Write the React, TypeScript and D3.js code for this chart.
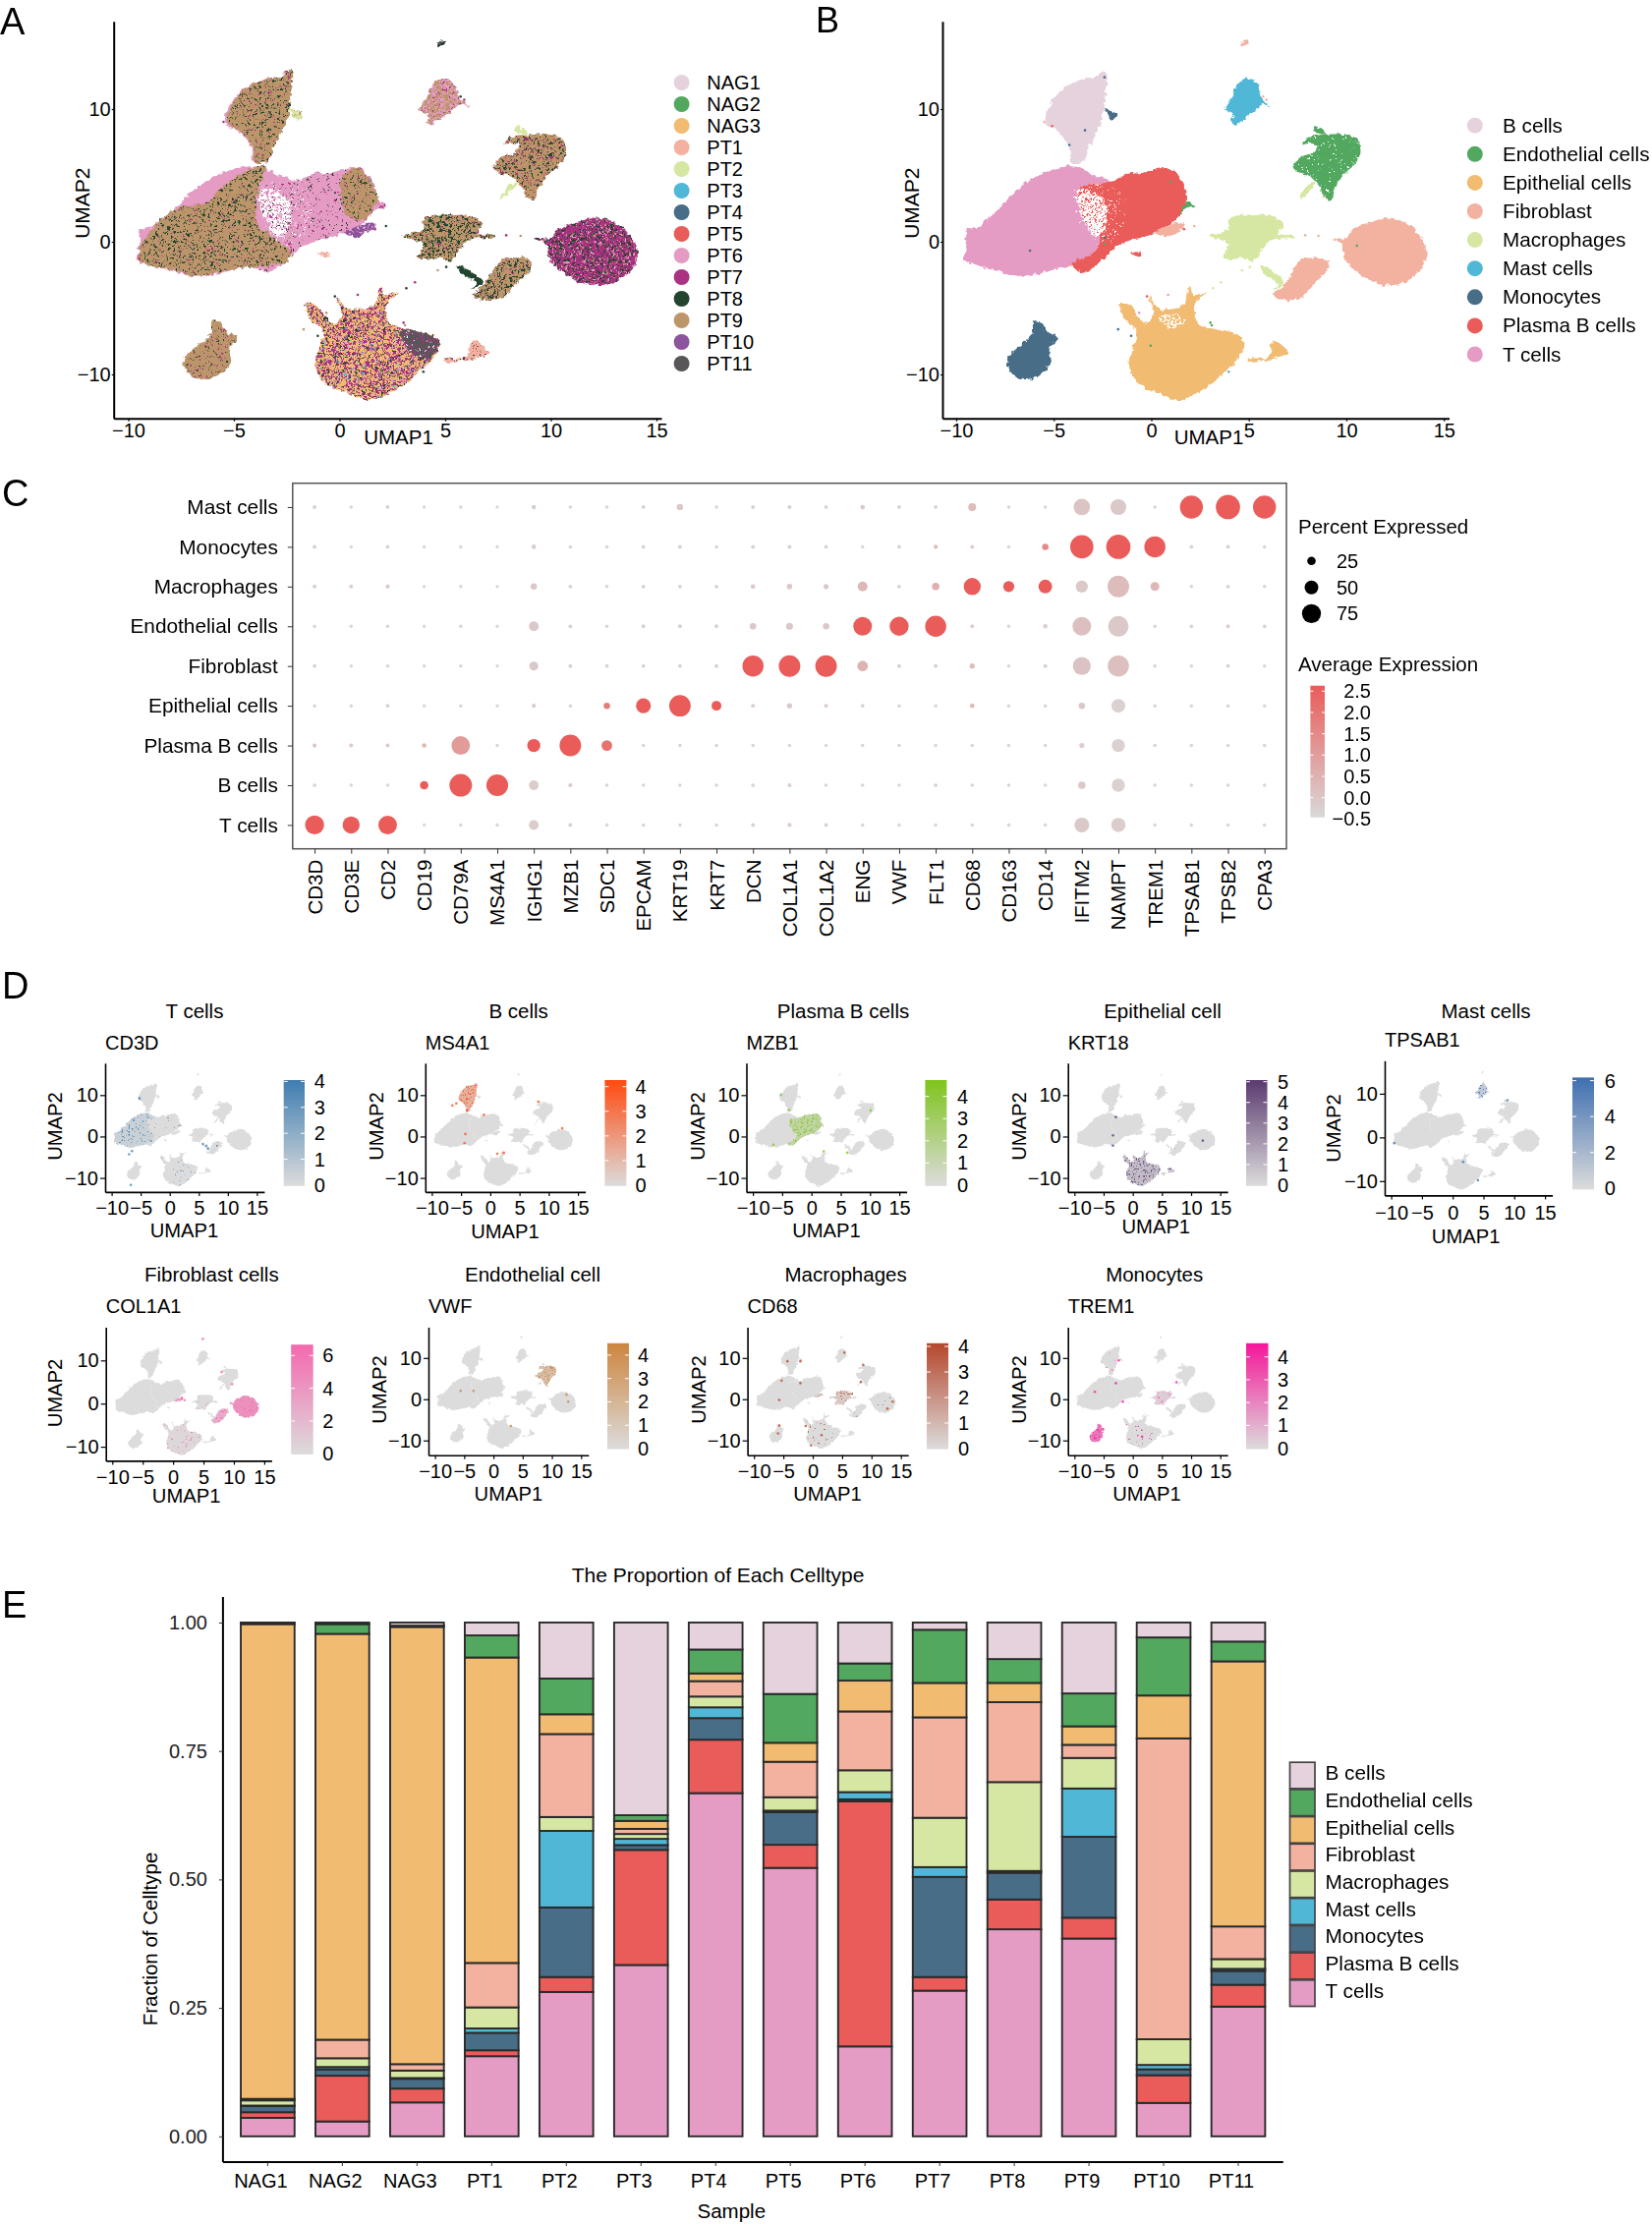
import { useRef, useEffect } from "react";
import * as d3 from "d3";

type Pt = [number, number];

// ---- shared categories
const sampleNames = ["NAG1", "NAG2", "NAG3", "PT1", "PT2", "PT3", "PT4", "PT5", "PT6", "PT7", "PT8", "PT9", "PT10", "PT11"];
const sampleColors = ["#E5D2DD", "#53A85F", "#F1BB72", "#F3B1A0", "#D6E7A3", "#50B8D6", "#476D87", "#E95C59", "#E59CC4", "#AB3282", "#23452F", "#BD956A", "#8C549C", "#585658"];
const cellTypes = ["B cells", "Endothelial cells", "Epithelial cells", "Fibroblast", "Macrophages", "Mast cells", "Monocytes", "Plasma B cells", "T cells"];
const cellColors = ["#E5D2DD", "#53A85F", "#F1BB72", "#F3B1A0", "#D6E7A3", "#50B8D6", "#476D87", "#E95C59", "#E59CC4"];
const [PINK, TAN, DARK, MAGENTA, GREY] = ["#E59CC4", "#BD956A", "#23452F", "#AB3282", "#585658"];

// ---- UMAP cluster outlines (UMAP1, UMAP2)
const tCellOutline: Pt[] = [[-4.54, 5.63], [-3.73, 5.63], [-2.92, 5.01], [-2.11, 4.59], [-3.73, 4.02], [-3.68, 2.91], [-3.41, 1.43], [-2.65, 0.32], [-2.92, -0.79], [-4.14, -1.73], [-5.08, -2.15], [-6.7, -2.64], [-7.78, -2.27], [-9.0, -1.73], [-9.57, -1.41], [-9.46, -0.17], [-9.46, 0.94], [-9.0, 1.06], [-8.05, 2.17], [-6.7, 4.15], [-5.62, 5.14]];
const plasmaOutline: Pt[] = [[-3.73, 4.02], [-1.97, 4.59], [-1.03, 5.26], [-0.76, 5.14], [1.0, 5.51], [1.68, 4.15], [1.76, 2.91], [1.27, 1.68], [0.05, 0.57], [-1.57, -0.17], [-2.92, -1.9], [-3.46, -2.27], [-4.14, -1.73], [-2.92, -0.79], [-2.65, 0.32], [-3.41, 1.43], [-3.68, 2.91]];
const gapOutline: Pt[] = [[-3.8, 3.9], [-2.5, 3.3], [-2.3, 1.5], [-2.8, 0.3], [-3.5, 1.7]];
const gapFringeOutline: Pt[] = [[-3.9, 4.1], [-1.6, 3.9], [-1.4, 1.2], [-2.6, -0.3], [-3.6, 1.4]];
const bCellOutline: Pt[] = [[-2.51, 12.91], [-2.27, 12.67], [-2.38, 10.81], [-2.43, 9.7], [-2.78, 8.35], [-3.19, 7.11], [-3.46, 6.12], [-4.14, 6.0], [-4.14, 6.99], [-4.81, 8.35], [-5.35, 8.84], [-5.41, 9.58], [-5.08, 10.57], [-4.54, 11.56], [-3.46, 12.3], [-2.78, 12.49]];
const monoSmallOutline: Pt[] = [[-2.38, 10.07], [-1.78, 9.58], [-1.97, 9.14], [-2.24, 9.58]];
const mastOutline: Pt[] = [[4.65, 12.17], [5.32, 12.17], [5.59, 11.31], [5.68, 10.81], [6.14, 10.2], [5.73, 10.37], [5.19, 9.7], [4.24, 8.84], [4.11, 9.09], [4.24, 9.58], [3.76, 9.95], [4.11, 10.81], [4.32, 11.56]];
const fibroTopOutline: Pt[] = [[4.62, 14.77], [4.76, 15.2], [4.97, 15.2], [4.97, 14.88]];
const endoOutline: Pt[] = [[8.03, 7.85], [10.46, 7.85], [10.73, 6.86], [10.46, 5.88], [9.92, 5.14], [9.51, 4.27], [9.19, 3.11], [8.84, 3.53], [8.3, 4.77], [7.49, 5.26], [7.3, 5.63], [7.62, 6.37], [8.3, 6.75], [8.5, 7.25], [8.1, 7.4], [7.76, 7.3]];
const endoTopOutline: Pt[] = [[8.38, 8.72], [8.97, 8.1], [8.3, 8.35]];
const macroStreakOutline: Pt[] = [[7.54, 3.21], [8.3, 4.52], [8.43, 4.4], [7.6, 3.21]];
const macroOutline: Pt[] = [[3.97, 1.73], [6.27, 1.88], [6.76, 1.19], [6.49, 0.64], [7.35, 0.49], [7.35, 0.27], [6.27, 0.2], [5.59, -0.79], [5.19, -1.53], [4.92, -1.28], [3.7, -1.21], [3.97, -0.17], [2.97, 0.44], [3.97, 0.94]];
const fibroBigOutline: Pt[] = [[12.22, 1.8], [13.03, 1.43], [13.7, 0.57], [14.11, -0.79], [13.84, -2.02], [13.03, -3.01], [11.95, -3.26], [10.86, -2.64], [9.92, -1.28], [9.78, -0.17], [9.24, 0.25], [9.92, 0.25], [10.32, 0.94], [11.41, 1.56]];
const fibroSmallOutline: Pt[] = [[7.76, -1.28], [8.84, -1.28], [9.11, -1.83], [8.43, -3.01], [7.76, -4.12], [7.08, -4.44], [6.27, -4.0], [6.81, -3.26], [7.22, -2.27]];
const macroSliverOutline: Pt[] = [[5.59, -1.78], [6.81, -3.01], [6.27, -3.63], [6.49, -3.14], [5.86, -2.52]];
const plasmaEdgeOutline: Pt[] = [[0.19, 0.64], [1.41, 1.43], [1.73, 1.19], [0.86, 0.44]];
const redSpotOutline: Pt[] = [[-1.03, -0.91], [-0.54, -0.79], [-0.54, -1.11]];
const endoSideOutline: Pt[] = [[1.46, 1.93], [1.81, 3.04], [2.22, 2.67], [1.68, 2.42]];
const monoOutline: Pt[] = [[-6.03, -5.98], [-5.62, -6.1], [-5.35, -6.77], [-4.81, -7.21], [-5.22, -8.07], [-5.14, -9.06], [-5.62, -9.93], [-6.3, -10.37], [-6.97, -10.17], [-7.38, -9.31], [-7.38, -8.81], [-6.84, -7.95], [-6.11, -6.96]];
const epiOutline: Pt[] = [[1.95, -3.26], [2.08, -4.0], [2.81, -3.83], [2.22, -4.74], [2.43, -6.22], [3.3, -6.59], [4.51, -7.09], [4.78, -7.7], [4.38, -8.94], [3.84, -9.68], [3.03, -10.79], [1.41, -11.95], [0.59, -11.53], [-0.76, -10.54], [-1.14, -9.19], [-0.76, -6.72], [-1.3, -5.98], [-1.62, -4.62], [-1.03, -4.86], [-0.7, -5.6], [-0.22, -6.22], [0.11, -5.48], [-0.16, -4.12], [0.32, -4.99], [0.86, -5.11], [1.68, -4.74]];
const epiTailOutline: Pt[] = [[4.92, -8.81], [6.0, -8.69], [6.27, -7.46], [6.81, -7.95], [7.08, -8.44], [6.27, -8.81], [4.92, -9.06]];
const epiHoleOutline: Pt[] = [[0.4, -5.7], [1.4, -5.5], [1.7, -6.1], [0.9, -6.5]];

// outlines that only exist in the sample view (panel A)
const tanLeftOutline: Pt[] = [[-9.35, -0.17], [-7.86, 2.42], [-6.36, 2.91], [-5.36, 4.4], [-4.36, 5.38], [-3.49, 5.75], [-3.87, 3.9], [-3.87, 1.43], [-2.87, -0.05], [-2.24, -0.91], [-2.62, -1.53], [-4.86, -2.02], [-6.86, -2.59], [-7.86, -2.15], [-9.48, -1.41]];
const tanRightOutline: Pt[] = [[0.12, 4.89], [0.87, 5.51], [1.62, 4.15], [1.82, 2.91], [1.12, 1.68], [0.37, 1.93]];
const greyPatchOutline: Pt[] = [[2.87, -6.72], [4.24, -6.96], [4.74, -7.7], [4.11, -8.81], [3.37, -8.32]];

const clusterOutlines: Pt[][] = [tCellOutline, plasmaOutline, bCellOutline, monoSmallOutline, mastOutline, fibroTopOutline, endoOutline, endoTopOutline, macroStreakOutline, macroOutline, fibroBigOutline, fibroSmallOutline, macroSliverOutline, plasmaEdgeOutline, redSpotOutline, endoSideOutline, monoOutline, epiOutline, epiTailOutline];
const clusterCells = [8, 7, 0, 6, 5, 3, 1, 1, 4, 4, 3, 3, 4, 3, 7, 1, 6, 2, 2];

// isolated cells [UMAP1, UMAP2, cell type index]
const strayCells: [number, number, number][] = [[3.16, -3.5, 4], [3.57, -3.06, 4], [4.65, -2.15, 4], [5.05, -1.9, 4], [7.89, 0.49, 3], [8.57, 0.44, 3], [2.2, 1.19, 3], [1.68, 0.94, 7], [-1.7, -6.6, 6], [-1.03, -7.09, 6], [3.03, -6.1, 1], [3.1, -6.3, 1], [3.97, -9.8, 5], [-5.49, 9.04, 3], [-5.08, 8.72, 7], [-0.22, -4.12, 7], [0.86, -4.0, 8], [-0.62, -5.36, 8], [10.54, -0.3, 1], [-6.22, -0.67, 6], [-0.03, -7.83, 1], [5.73, 10.94, 3], [5.9, 10.7, 3], [8.84, 3.41, 3], [1.0, 4.52, 1], [-2.38, -0.17, 1], [-2.38, 0.32, 6], [-3.4, 8.4, 6], [-2.4, 12.4, 6], [-4.2, 7.3, 6]];

// ---- panel C dot plot
const dotGenes = ["CD3D", "CD3E", "CD2", "CD19", "CD79A", "MS4A1", "IGHG1", "MZB1", "SDC1", "EPCAM", "KRT19", "KRT7", "DCN", "COL1A1", "COL1A2", "ENG", "VWF", "FLT1", "CD68", "CD163", "CD14", "IFITM2", "NAMPT", "TREM1", "TPSAB1", "TPSB2", "CPA3"];
const dotRows = ["Mast cells", "Monocytes", "Macrophages", "Endothelial cells", "Fibroblast", "Epithelial cells", "Plasma B cells", "B cells", "T cells"];
const pctMast = [3, 1, 2, 0, 1, 0, 6, 1, 1, 2, 15, 1, 3, 3, 2, 6, 2, 2, 22, 1, 1, 63, 60, 1, 94, 100, 94];
const pctMono = [3, 1, 2, 0, 1, 0, 6, 1, 1, 2, 3, 1, 3, 3, 2, 1, 2, 4, 3, 1, 15, 95, 100, 85, 2, 3, 1];
const pctMacro = [3, 3, 4, 0, 1, 0, 15, 2, 1, 2, 2, 2, 6, 11, 9, 31, 2, 20, 66, 37, 50, 42, 87, 27, 1, 2, 1];
const pctEndo = [1, 1, 1, 0, 1, 0, 31, 2, 1, 3, 3, 3, 15, 18, 15, 73, 75, 85, 3, 1, 5, 73, 82, 1, 2, 3, 2];
const pctFibro = [2, 1, 1, 0, 1, 0, 27, 3, 2, 2, 2, 3, 85, 87, 87, 35, 3, 3, 9, 1, 3, 70, 85, 1, 1, 2, 1];
const pctEpi = [1, 1, 2, 0, 1, 0, 4, 1, 15, 55, 87, 31, 3, 9, 3, 2, 1, 1, 6, 1, 1, 15, 50, 1, 1, 1, 1];
const pctPlasma = [4, 3, 3, 6, 73, 1, 47, 87, 35, 1, 1, 1, 1, 1, 1, 1, 1, 1, 1, 1, 1, 9, 47, 1, 1, 1, 1];
const pctB = [2, 1, 1, 25, 92, 88, 31, 4, 1, 1, 1, 1, 2, 3, 1, 1, 1, 2, 1, 1, 1, 20, 47, 1, 1, 1, 1];
const pctT = [75, 66, 73, 0, 1, 1, 31, 3, 1, 1, 1, 1, 3, 4, 2, 1, 1, 1, 1, 1, 1, 55, 52, 1, 1, 1, 1];
const expMast = [-0.3, -0.4, -0.3, -0.4, -0.4, -0.4, -0.2, -0.4, -0.4, -0.3, -0.1, -0.4, -0.3, -0.3, -0.3, -0.1, -0.3, -0.3, 0.2, -0.4, -0.4, 0, -0.1, -0.4, 2.5, 2.5, 2.5];
const expMono = [-0.3, -0.4, -0.3, -0.4, -0.4, -0.4, -0.2, -0.4, -0.4, -0.3, -0.3, -0.4, -0.3, -0.3, -0.3, -0.4, -0.3, 0.2, -0.2, -0.4, 1.4, 2.5, 2.5, 2.5, -0.4, -0.3, -0.4];
const expMacro = [-0.2, -0.2, -0.1, -0.4, -0.4, -0.4, -0.1, -0.3, -0.4, -0.3, -0.3, -0.3, -0.1, -0.1, -0.1, 0.3, -0.3, 0.5, 2.5, 2.5, 2.5, -0.1, 0.2, 0.3, -0.4, -0.3, -0.4];
const expEndo = [-0.4, -0.4, -0.4, -0.4, -0.4, -0.4, -0.1, -0.3, -0.4, -0.3, -0.3, -0.3, -0.1, -0.1, -0.1, 2.5, 2.5, 2.5, -0.2, -0.4, -0.2, 0.1, -0.1, -0.4, -0.3, -0.2, -0.3];
const expFibro = [-0.3, -0.4, -0.4, -0.4, -0.4, -0.4, -0.1, -0.3, -0.3, -0.3, -0.3, -0.3, 2.5, 2.5, 2.5, 0.4, -0.3, -0.3, 0.2, -0.4, -0.3, 0.05, 0.1, -0.4, -0.4, -0.3, -0.4];
const expEpi = [-0.4, -0.4, -0.3, -0.4, -0.4, -0.4, -0.2, -0.4, 1.7, 2.5, 2.5, 2.5, -0.2, -0.1, -0.2, -0.3, -0.4, -0.4, 0.2, -0.4, -0.4, -0.1, -0.3, -0.4, -0.4, -0.4, -0.4];
const expPlasma = [0, -0.1, -0.1, 0.3, 1.0, -0.4, 2.5, 2.5, 2.0, -0.4, -0.4, -0.4, -0.4, -0.4, -0.4, -0.4, -0.4, -0.4, -0.4, -0.4, -0.4, -0.2, -0.3, -0.4, -0.4, -0.4, -0.4];
const expB = [-0.3, -0.4, -0.4, 2.5, 2.5, 2.5, -0.2, -0.1, -0.4, -0.4, -0.4, -0.4, -0.3, -0.2, -0.4, -0.4, -0.4, -0.2, -0.4, -0.4, -0.4, -0.1, -0.3, -0.4, -0.4, -0.4, -0.4];
const expT = [2.5, 2.5, 2.5, -0.4, -0.4, -0.4, -0.2, -0.3, -0.4, -0.4, -0.4, -0.4, -0.3, -0.2, -0.3, -0.4, -0.4, -0.4, -0.4, -0.4, -0.4, -0.1, -0.2, -0.4, -0.4, -0.4, -0.4];
const dotPct = [pctMast, pctMono, pctMacro, pctEndo, pctFibro, pctEpi, pctPlasma, pctB, pctT];
const dotExp = [expMast, expMono, expMacro, expEndo, expFibro, expEpi, expPlasma, expB, expT];
const sizeLegend = [25, 50, 75];
const colorLegend = [2.5, 2.0, 1.5, 1.0, 0.5, 0.0, -0.5];

// ---- panel D feature plots
const featureTitles = ["T cells", "B cells", "Plasma B cells", "Epithelial cell", "Mast cells", "Fibroblast cells", "Endothelial cell", "Macrophages", "Monocytes"];
const featureGenes = ["CD3D", "MS4A1", "MZB1", "KRT18", "TPSAB1", "COL1A1", "VWF", "CD68", "TREM1"];
const featureColors = ["#3F7DB0", "#FF4A10", "#7FC41C", "#5B3A70", "#3F6FB0", "#F468AE", "#CD853F", "#B5472D", "#F5169A"];
const featureTicks = [[0, 1, 2, 3, 4], [0, 1, 2, 3, 4], [0, 1, 2, 3, 4], [0, 1, 2, 3, 4, 5], [0, 2, 4, 6], [0, 2, 4, 6], [0, 1, 2, 3, 4], [0, 1, 2, 3, 4], [0, 1, 2, 3, 4]];
// [outline, wash opacity, speckle coverage]
const featureHits: [Pt[], number, number][][] = [
  [[tCellOutline, 0.12, 0.2], [epiOutline, 0, 0.04], [fibroSmallOutline, 0, 0.04], [plasmaOutline, 0, 0.008]],
  [[bCellOutline, 0.3, 0.28]],
  [[plasmaOutline, 0.3, 0.3]],
  [[epiOutline, 0.2, 0.26], [epiTailOutline, 0.15, 0.22], [fibroSmallOutline, 0, 0.02]],
  [[mastOutline, 0.18, 0.25]],
  [[fibroBigOutline, 0.65, 0.2], [fibroSmallOutline, 0.4, 0.2], [epiOutline, 0.04, 0.06], [plasmaEdgeOutline, 0.4, 0.25], [macroOutline, 0, 0.03]],
  [[endoOutline, 0.35, 0.28]],
  [[macroOutline, 0.12, 0.17], [epiOutline, 0, 0.018], [fibroSmallOutline, 0, 0.04], [fibroBigOutline, 0, 0.018], [plasmaEdgeOutline, 0.2, 0.18]],
  [[monoOutline, 0.5, 0.25], [macroOutline, 0.08, 0.08], [epiOutline, 0, 0.012], [bCellOutline, 0, 0.008]],
];
const featureDots: Pt[][] = [
  [[6.3, -2.2], [5.7, -1.8], [6.6, -2.9], [-5.2, 9.2], [-7, -4.3], [-6.5, -3.5], [-6.7, -11.7]],
  [[-4.26, 0.6], [-4.4, -1.6], [-1.1, 5.25], [1.2, -4.15], [2.3, -3.9], [-6.5, 7.5], [-5.8, 8], [-4, 6.3], [8.2, 8.4], [12.3, 2]],
  [[2.1, -3.6], [-5.2, 10.1], [-3.8, 6.4], [-6.5, -2], [10.1, 6.3], [6.1, -3.9]],
  [[-3.4, 0.3], [-2.9, 4.7], [-3.4, -2.2], [12, -1]],
  [[8.9, 8.5], [4.1, -9.8], [1.7, -5.6], [-9.5, -1.3]],
  [[1.4, 1.05], [1.9, 0.8], [8, 7.3], [9.7, 4.5], [4.9, 15]],
  [[-5.6, 2], [-3.4, 2], [12.5, 1.1], [12.8, -0.6], [3, -6.5]],
  [[-4.3, 9.2], [-2.1, 9.2], [-5.3, 4.5], [-2.1, 3.9], [-5.7, -0.2], [-5.9, -8.3], [-5.7, -6.4], [-1.2, -6.5], [1.5, -8.7], [-0.3, -11.2], [12.7, -2.3], [13.6, -0.6], [8.6, 8.3], [8.2, 4.2], [5.4, 11.3]],
  [[-2.4, 9.4], [-2.9, 3.9], [-1.7, -0.6], [-6.5, 1.8], [7.5, 4.1], [1.6, -9.1]],
];

// ---- panel E stacked bars, fractions per sample in sampleNames order
const fracB = [0.001, 0.003, 0.006, 0.025, 0.109, 0.375, 0.0525, 0.139, 0.0795, 0.014, 0.071, 0.138, 0.029, 0.037];
const fracEndo = [0.002, 0.019, 0.0025, 0.043, 0.0695, 0.011, 0.0465, 0.095, 0.0335, 0.1035, 0.0465, 0.064, 0.113, 0.0385];
const fracEpi = [0.925, 0.79, 0.851, 0.5945, 0.0385, 0.0155, 0.015, 0.037, 0.06, 0.067, 0.0375, 0.036, 0.0835, 0.516];
const fracFibro = [0.003, 0.036, 0.0125, 0.0865, 0.1615, 0.01, 0.03, 0.069, 0.1145, 0.1955, 0.1555, 0.0255, 0.5855, 0.0635];
const fracMacro = [0.01, 0.017, 0.0145, 0.041, 0.027, 0.0095, 0.021, 0.026, 0.0425, 0.096, 0.173, 0.0595, 0.05, 0.019];
const fracMast = [0.001, 0.0045, 0.0015, 0.0085, 0.149, 0.012, 0.021, 0.003, 0.014, 0.019, 0.0035, 0.094, 0.0085, 0.004];
const fracMono = [0.012, 0.0125, 0.019, 0.034, 0.1355, 0.0095, 0.042, 0.0635, 0.004, 0.195, 0.052, 0.1575, 0.0115, 0.027];
const fracPlasma = [0.011, 0.089, 0.027, 0.0115, 0.029, 0.224, 0.104, 0.045, 0.477, 0.0265, 0.058, 0.0405, 0.054, 0.0425];
const fracT = [0.036, 0.029, 0.066, 0.156, 0.281, 0.3335, 0.668, 0.5225, 0.175, 0.2835, 0.403, 0.385, 0.065, 0.2525];
const cellFractions = [fracB, fracEndo, fracEpi, fracFibro, fracMacro, fracMast, fracMono, fracPlasma, fracT];

// ---- layout of the small feature panels
const featureLayout = [
  { ax: 107, ar: 268.9, at: 1081.8, ab: 1212.9, y10: 1114.3, ym10: 1198.6, title: 198, titleY: 1036, geneY: 1068, barX: 288.7, barW: 21.3, barT: 1099, barB: 1206.8, lab0: 1206, labTop: 1100.4, labX: 319.8, umapX: 187.5, umapY: 1259, umap2X: 56, umap2Y: 1146, tickY: 23 },
  { ax: 432.8, ar: 595.6, at: 1081.8, ab: 1212.9, y10: 1114.3, ym10: 1198.6, title: 527.6, titleY: 1036, geneY: 1068, barX: 615.4, barW: 22, barT: 1099, barB: 1206.8, lab0: 1206, labTop: 1105.7, labX: 646.5, umapX: 514, umapY: 1260, umap2X: 383, umap2Y: 1146, tickY: 23 },
  { ax: 759.5, ar: 922.6, at: 1081.8, ab: 1212.9, y10: 1114.3, ym10: 1198.6, title: 858, titleY: 1036, geneY: 1068, barX: 941.4, barW: 22, barT: 1099, barB: 1206.8, lab0: 1206, labTop: 1115.7, labX: 974, umapX: 841, umapY: 1259, umap2X: 709.7, umap2Y: 1146, tickY: 23 },
  { ax: 1086.7, ar: 1249.2, at: 1081.8, ab: 1212.9, y10: 1114.3, ym10: 1198.6, title: 1183, titleY: 1036, geneY: 1068, barX: 1268, barW: 21.5, barT: 1099, barB: 1206.8, lab0: 1206, labTop: 1100.7, labX: 1300, umapX: 1176.3, umapY: 1255, umap2X: 1036.8, umap2Y: 1146, tickY: 23 },
  { ax: 1409, ar: 1579.6, at: 1079.3, ab: 1216.4, y10: 1112.9, ym10: 1201.8, title: 1512, titleY: 1036, geneY: 1065, barX: 1600, barW: 22, barT: 1096.4, barB: 1210.4, lab0: 1209.3, labTop: 1099.6, labX: 1632.7, umapX: 1491.6, umapY: 1265, umap2X: 1356.5, umap2Y: 1148, tickY: 24 },
  { ax: 107.7, ar: 276.4, at: 1350.4, ab: 1486.4, y10: 1384.3, ym10: 1472.1, title: 215.3, titleY: 1304, geneY: 1336, barX: 296.2, barW: 22.5, barT: 1368.2, barB: 1480, lab0: 1479.3, labTop: 1379.3, labX: 328.3, umapX: 189.6, umapY: 1529, umap2X: 56.2, umap2Y: 1417.5, tickY: 23 },
  { ax: 436, ar: 598.8, at: 1350.4, ab: 1480.7, y10: 1381.8, ym10: 1465.7, title: 542, titleY: 1304, geneY: 1336, barX: 618, barW: 22, barT: 1366.8, barB: 1474.6, lab0: 1474, labTop: 1378.9, labX: 649, umapX: 517.4, umapY: 1527, umap2X: 385.6, umap2Y: 1414, tickY: 23 },
  { ax: 760.6, ar: 924.2, at: 1350.4, ab: 1480.7, y10: 1381.8, ym10: 1465.7, title: 860.6, titleY: 1304, geneY: 1336, barX: 943, barW: 22, barT: 1366.8, barB: 1474.6, lab0: 1474, labTop: 1370, labX: 975, umapX: 842, umapY: 1527, umap2X: 710.8, umap2Y: 1414, tickY: 23 },
  { ax: 1086.7, ar: 1249.2, at: 1350.4, ab: 1480.7, y10: 1381.8, ym10: 1465.7, title: 1174.7, titleY: 1304, geneY: 1336, barX: 1268, barW: 22.5, barT: 1366.8, barB: 1474.6, lab0: 1473.6, labTop: 1380.7, labX: 1300, umapX: 1167, umapY: 1527, umap2X: 1036.8, umap2Y: 1414, tickY: 23 },
];

const FS = 20;
const GEO_TICKS = [-10, -5, 0, 5, 10, 15];

export default function App() {
  const svgRef = useRef<SVGSVGElement>(null);

  useEffect(() => {
    if (!svgRef.current) return;
    const svg = d3.select(svgRef.current);
    svg.selectAll("*").remove();
    const defs = svg.append("defs");

    // speckle texture standing in for overplotted single cells
    const speckles = new Map<string, string>();
    const speckle = (color: string, coverage: number, freq = 0.62) => {
      const key = `${color}-${coverage}-${freq}`;
      if (speckles.has(key)) return speckles.get(key)!;
      const id = `sp${speckles.size}`;
      speckles.set(key, `url(#${id})`);
      const c = d3.rgb(color);
      const threshold = 0.5 + (0.5 - coverage) * 0.42;
      const k = 16;
      const f = defs.append("filter").attr("id", id).attr("x", "-5%").attr("y", "-5%").attr("width", "110%").attr("height", "110%").attr("color-interpolation-filters", "sRGB");
      f.append("feTurbulence").attr("type", "fractalNoise").attr("baseFrequency", freq).attr("numOctaves", 2).attr("seed", speckles.size * 7 + 2).attr("result", "n");
      f.append("feColorMatrix").attr("in", "n").attr("type", "matrix").attr("values", `0 0 0 0 ${c.r / 255} 0 0 0 0 ${c.g / 255} 0 0 0 0 ${c.b / 255} 0 0 0 ${k} ${-threshold * k}`).attr("result", "s");
      f.append("feComposite").attr("in", "s").attr("in2", "SourceAlpha").attr("operator", "in");
      return `url(#${id})`;
    };
    const addRough = (id: string, scale: number, freq: number) => {
      const f = defs.append("filter").attr("id", id).attr("x", "-5%").attr("y", "-5%").attr("width", "110%").attr("height", "110%").attr("color-interpolation-filters", "sRGB");
      f.append("feTurbulence").attr("type", "fractalNoise").attr("baseFrequency", freq).attr("numOctaves", 2).attr("seed", 11).attr("result", "n");
      f.append("feDisplacementMap").attr("in", "SourceGraphic").attr("in2", "n").attr("scale", scale).attr("xChannelSelector", "R").attr("yChannelSelector", "G");
    };
    addRough("rough", 6, 0.2);
    addRough("roughSmall", 3, 0.3);

    const text = (g: any, s: string | number, x: number, y: number, anchor = "start", size = FS) =>
      g.append("text").attr("x", x).attr("y", y).attr("text-anchor", anchor).attr("font-size", size).attr("fill", "#000").text(s);
    const rotText = (g: any, s: string, x: number, y: number, anchor = "middle", size = FS) =>
      g.append("text").attr("transform", `translate(${x},${y}) rotate(-90)`).attr("text-anchor", anchor).attr("font-size", size).attr("fill", "#000").text(s);

    const blobPath = (x: any, y: any) => d3.line<Pt>().x((d) => x(d[0])).y((d) => y(d[1])).curve(d3.curveCatmullRomClosed.alpha(0.5));

    const styleAxis = (a: any, stroke: number) => {
      a.attr("font-family", null).attr("font-size", FS);
      a.select(".domain").attr("stroke", "#000").attr("stroke-width", stroke);
      a.selectAll(".tick line").attr("stroke", "#000").attr("stroke-width", 1.2);
      a.selectAll(".tick text").attr("fill", "#000");
    };

    // ---- panels A and B share their scales
    const umapScales = (ax: number, ar: number, x0: number, unit: number) => ({
      x: d3.scaleLinear().domain([(ax - x0) / unit, (ar - x0) / unit]).range([ax, ar]),
      y: d3.scaleLinear().domain([(246 - 21.7) / 13.5, (246 - 425.7) / 13.5]).range([21.7, 425.7]),
    });
    const drawBigAxes = (g: any, x: any, y: any, ax: number) => {
      const bx = g.append("g").attr("transform", "translate(0,425.7)").call(d3.axisBottom(x).tickValues(GEO_TICKS).tickSize(3).tickSizeOuter(0).tickPadding(2));
      styleAxis(bx, 2);
      const by = g.append("g").attr("transform", `translate(${ax},0)`).call(d3.axisLeft(y).tickValues([-10, 0, 10]).tickSize(2).tickSizeOuter(0).tickPadding(1));
      styleAxis(by, 2);
    };

    // panel A: clusters coloured by sample
    {
      const { x, y } = umapScales(115.7, 673, 345.5, 21.5);
      const line = blobPath(x, y);
      const g = svg.append("g");
      const blobs = g.append("g").attr("filter", "url(#rough)");
      const FA = 0.42;
      const layer = (outline: Pt[], base: string | null, specks: [string, number][]) => {
        if (base) blobs.append("path").attr("d", line(outline)).attr("fill", base);
        specks.forEach(([c, cov]) => blobs.append("path").attr("d", line(outline)).attr("fill", "#000").attr("filter", speckle(c, cov, FA)));
      };
      layer(tCellOutline, PINK, []);
      layer(plasmaOutline, PINK, [[DARK, 0.05], [MAGENTA, 0.05]]);
      layer(gapOutline, null, [["#ffffff", 0.7], [DARK, 0.03], [MAGENTA, 0.03]]);
      layer(gapFringeOutline, null, [["#ffffff", 0.12]]);
      layer(tanLeftOutline, TAN, [[MAGENTA, 0.03], [DARK, 0.26]]);
      layer(tanRightOutline, TAN, [[DARK, 0.18], [MAGENTA, 0.05]]);
      layer(bCellOutline, PINK, []);
      layer(bCellOutline.map(([u, v]) => [u * 0.98, v] as Pt), TAN, [[DARK, 0.22], [MAGENTA, 0.05]]);
      layer(monoSmallOutline, "#D6E7A3", [[TAN, 0.3]]);
      layer(mastOutline, PINK, [[TAN, 0.6], [MAGENTA, 0.1]]);
      layer(fibroTopOutline, DARK, [[MAGENTA, 0.3]]);
      layer(endoOutline, TAN, [[DARK, 0.3], [MAGENTA, 0.12], ["#E95C59", 0.03]]);
      layer(endoTopOutline, "#D6E7A3", []);
      layer(macroStreakOutline, "#D6E7A3", []);
      layer(macroOutline, TAN, [[DARK, 0.42], [MAGENTA, 0.05]]);
      layer(fibroBigOutline, MAGENTA, [[DARK, 0.4], [PINK, 0.2], [TAN, 0.07]]);
      layer(fibroSmallOutline, TAN, [[DARK, 0.36], [MAGENTA, 0.1]]);
      layer(macroSliverOutline, DARK, []);
      layer(plasmaEdgeOutline, "#8C549C", [[PINK, 0.3]]);
      layer(redSpotOutline, "#F3B1A0", []);
      layer(endoSideOutline, PINK, [[MAGENTA, 0.3]]);
      layer(monoOutline, TAN, [[DARK, 0.1], [MAGENTA, 0.1]]);
      layer(epiOutline, "#F1BB72", [[MAGENTA, 0.48], [PINK, 0.18], [DARK, 0.2], ["#50B8D6", 0.02]]);
      layer(greyPatchOutline, GREY, [[MAGENTA, 0.3], ["#ffffff", 0.06]]);
      layer(epiTailOutline, "#F3B1A0", [[DARK, 0.14], [MAGENTA, 0.14]]);
      g.append("g").selectAll("circle").data(strayCells).join("circle")
        .attr("cx", (d) => x(d[0])).attr("cy", (d) => y(d[1])).attr("r", 1.3).attr("fill", (d, i) => [DARK, MAGENTA, TAN][i % 3]);
      drawBigAxes(g, x, y, 115.7);
      text(g, "UMAP1", 405.5, 452, "middle", 20.5);
      rotText(g, "UMAP2", 91, 206.7, "middle", 21);
      sampleNames.forEach((s, i) => {
        const cy = 84 + i * 22;
        g.append("circle").attr("cx", 693.6).attr("cy", cy).attr("r", 8).attr("fill", sampleColors[i]);
        text(g, s, 719.3, cy + 7, "start", 20);
      });
    }

    // panel B: clusters coloured by cell type
    {
      const { x, y } = umapScales(959, 1474.5, 1171.5, 19.85);
      const line = blobPath(x, y);
      const g = svg.append("g");
      const blobs = g.append("g").attr("filter", "url(#rough)");
      clusterOutlines.forEach((o, i) => blobs.append("path").attr("d", line(o)).attr("fill", cellColors[clusterCells[i]]));
      blobs.append("path").attr("d", line(gapOutline)).attr("fill", "#000").attr("filter", speckle("#ffffff", 0.72));
      blobs.append("path").attr("d", line(gapFringeOutline)).attr("fill", "#000").attr("filter", speckle("#ffffff", 0.1));
      blobs.append("path").attr("d", line(epiHoleOutline)).attr("fill", "#000").attr("filter", speckle("#ffffff", 0.5));
      blobs.append("path").attr("d", line(endoOutline)).attr("fill", "#000").attr("filter", speckle("#ffffff", 0.03));
      g.append("g").selectAll("circle").data(strayCells).join("circle")
        .attr("cx", (d) => x(d[0])).attr("cy", (d) => y(d[1])).attr("r", 1.3).attr("fill", (d) => cellColors[d[2]]);
      drawBigAxes(g, x, y, 959);
      text(g, "UMAP1", 1230, 452, "middle", 20.5);
      rotText(g, "UMAP2", 934.5, 206.7, "middle", 21);
      cellTypes.forEach((s, i) => {
        const cy = 127.7 + i * 29.1;
        g.append("circle").attr("cx", 1500.8).attr("cy", cy).attr("r", 8).attr("fill", cellColors[i]);
        text(g, s, 1529, cy + 7, "start", 20.7);
      });
    }

    // panel C: dot plot
    {
      const g = svg.append("g");
      const [l, r, t, b] = [297.8, 1309, 491.7, 863.7];
      const x = d3.scalePoint<string>().domain(dotGenes).range([l, r]).padding(0.6);
      const y = d3.scalePoint<string>().domain(dotRows).range([t, b]).padding(0.6);
      const radius = d3.scaleLinear().domain([0, 100]).range([1.65, 12.35]);
      const color = d3.scaleLinear<string>().domain([-0.5, 2.5]).range(["#D9D9D9", "#E95C59"]).clamp(true);
      g.append("rect").attr("x", l).attr("y", t).attr("width", r - l).attr("height", b - t).attr("fill", "none").attr("stroke", "#555").attr("stroke-width", 1.5);
      const cells = dotRows.flatMap((row, i) => dotGenes.map((gene, j) => ({ row, gene, pct: dotPct[i][j], exp: dotExp[i][j] })));
      g.append("g").selectAll("circle").data(cells).join("circle")
        .attr("cx", (d) => x(d.gene)!).attr("cy", (d) => y(d.row)!).attr("r", (d) => radius(d.pct)).attr("fill", (d) => color(d.exp));
      const ax = g.append("g").attr("transform", `translate(0,${b})`).call(d3.axisBottom(x).tickSize(5).tickSizeOuter(0));
      ax.attr("font-family", null);
      ax.select(".domain").remove();
      ax.selectAll(".tick line").attr("stroke", "#333");
      ax.selectAll(".tick text").attr("font-size", 20.5).attr("fill", "#000").attr("text-anchor", "end").attr("dy", 0)
        .attr("transform", "rotate(-90)").attr("x", -11).attr("y", 7);
      const ay = g.append("g").attr("transform", `translate(${l},0)`).call(d3.axisLeft(y).tickSize(5).tickSizeOuter(0).tickPadding(10));
      ay.attr("font-family", null);
      ay.select(".domain").remove();
      ay.selectAll(".tick line").attr("stroke", "#333");
      ay.selectAll(".tick text").attr("font-size", 20.8).attr("fill", "#000");

      text(g, "Percent Expressed", 1321, 543, "start", 20.5);
      const sizeY = [570.7, 597.7, 624.3];
      sizeLegend.forEach((s, i) => {
        g.append("circle").attr("cx", 1334.5).attr("cy", sizeY[i]).attr("r", radius(s)).attr("fill", "#000");
        text(g, s, 1360, sizeY[i] + 7);
      });
      text(g, "Average Expression", 1321, 683, "start", 20.5);
      const barY = d3.scaleLinear().domain([2.5, -0.5]).range([703.3, 833.3]);
      const [barTop, barBottom] = [697.7, 831.7];
      const grad = defs.append("linearGradient").attr("id", "avgExp").attr("x1", 0).attr("x2", 0).attr("y1", 1).attr("y2", 0);
      grad.append("stop").attr("offset", 0).attr("stop-color", "#D9D9D9");
      grad.append("stop").attr("offset", 1).attr("stop-color", "#E95C59");
      g.append("rect").attr("x", 1333.4).attr("y", barTop).attr("width", 14.6).attr("height", barBottom - barTop).attr("fill", "url(#avgExp)");
      colorLegend.forEach((v) => {
        const s = v < 0 ? `\u2212${Math.abs(v).toFixed(1)}` : v.toFixed(1);
        text(g, s, 1395, barY(v) + 7, "end", 20);
        if (barY(v) < barBottom) {
          g.append("line").attr("x1", 1333.4).attr("x2", 1336.3).attr("y1", barY(v)).attr("y2", barY(v)).attr("stroke", "#fff");
          g.append("line").attr("x1", 1345.1).attr("x2", 1348).attr("y1", barY(v)).attr("y2", barY(v)).attr("stroke", "#fff");
        }
      });
    }

    // panel D: feature plots
    featureLayout.forEach((p, i) => {
      const g = svg.append("g");
      const unit = (p.ar - 7.5 - (p.ax + 6.6)) / 25;
      const x0 = p.ax + 6.6 + 10 * unit;
      const x = d3.scaleLinear().domain([(p.ax - x0) / unit, (p.ar - x0) / unit]).range([p.ax, p.ar]);
      const yRef = d3.scaleLinear().domain([10, -10]).range([p.y10, p.ym10]);
      const y = d3.scaleLinear().domain([yRef.invert(p.at), yRef.invert(p.ab)]).range([p.at, p.ab]);
      const line = blobPath(x, y);
      const high = featureColors[i];
      const blobs = g.append("g").attr("filter", "url(#roughSmall)");
      clusterOutlines.forEach((o) => blobs.append("path").attr("d", line(o)).attr("fill", "#DCDCDC"));
      featureHits[i].forEach(([o, wash, cov]) => {
        if (wash > 0) blobs.append("path").attr("d", line(o)).attr("fill", high).attr("opacity", wash);
        blobs.append("path").attr("d", line(o)).attr("fill", "#000").attr("opacity", 0.75).attr("filter", speckle(high, cov, 0.55));
      });
      g.append("g").selectAll("circle").data(featureDots[i]).join("circle")
        .attr("cx", (d) => x(d[0])).attr("cy", (d) => y(d[1])).attr("r", 1.3).attr("fill", high).attr("opacity", 0.75);

      const bx = g.append("g").attr("transform", `translate(0,${p.ab})`).call(d3.axisBottom(x).tickValues(GEO_TICKS).tickSize(4).tickSizeOuter(0).tickPadding(p.tickY - 18));
      styleAxis(bx, 1.6);
      const by = g.append("g").attr("transform", `translate(${p.ax},0)`).call(d3.axisLeft(y).tickValues([-10, 0, 10]).tickSize(5).tickSizeOuter(0).tickPadding(2));
      styleAxis(by, 1.6);

      text(g, featureTitles[i], p.title, p.titleY, "middle", 20.5);
      text(g, featureGenes[i], p.ax, p.geneY, "start", 20);
      text(g, "UMAP1", p.umapX, p.umapY, "middle", 20.2);
      rotText(g, "UMAP2", p.umap2X + 7, p.umap2Y, "middle", 20.2);

      // colour bar
      const ticks = featureTicks[i];
      const maxTick = ticks[ticks.length - 1];
      const barY = d3.scaleLinear().domain([0, maxTick]).range([p.lab0, p.labTop]);
      const gid = `bar${i}`;
      const grad = defs.append("linearGradient").attr("id", gid).attr("x1", 0).attr("x2", 0).attr("y1", 1).attr("y2", 0);
      grad.append("stop").attr("offset", 0).attr("stop-color", "#DCDCDC");
      grad.append("stop").attr("offset", 1).attr("stop-color", high);
      g.append("rect").attr("x", p.barX).attr("y", p.barT).attr("width", p.barW).attr("height", p.barB - p.barT).attr("fill", `url(#${gid})`);
      ticks.forEach((v) => {
        text(g, v, p.labX, barY(v) + 7);
        if (v > 0) {
          g.append("line").attr("x1", p.barX).attr("x2", p.barX + 4).attr("y1", barY(v)).attr("y2", barY(v)).attr("stroke", "#fff");
          g.append("line").attr("x1", p.barX + p.barW - 4).attr("x2", p.barX + p.barW).attr("y1", barY(v)).attr("y2", barY(v)).attr("stroke", "#fff");
        }
      });
    });

    // panel E: stacked proportions
    {
      const g = svg.append("g");
      const x = d3.scaleBand<string>().domain(sampleNames).range([234.4, 1298]).paddingInner(0.28).paddingOuter(0.14);
      const y = d3.scaleLinear().domain([0, 1]).range([2173.8, 1651]);
      const rows = sampleNames.map((s, i) => {
        const row: Record<string, any> = { sample: s };
        cellTypes.forEach((c, j) => (row[c] = cellFractions[j][i]));
        return row;
      });
      const stacked = d3.stack<any>().keys([...cellTypes].reverse()).offset(d3.stackOffsetExpand)(rows);
      const color = d3.scaleOrdinal<string>().domain(cellTypes).range(cellColors);
      g.append("g").selectAll("g").data(stacked).join("g").attr("fill", (d) => color(d.key))
        .selectAll("rect").data((d) => d).join("rect")
        .attr("x", (d) => x(d.data.sample)!).attr("width", x.bandwidth())
        .attr("y", (d) => y(d[1])).attr("height", (d) => y(d[0]) - y(d[1]))
        .attr("stroke", "#2a2a2a").attr("stroke-width", 1.9);

      const ax = g.append("g").attr("transform", "translate(0,2200)").call(d3.axisBottom(x).tickSize(4).tickSizeOuter(0).tickPadding(8));
      ax.attr("font-family", null);
      ax.select(".domain").attr("stroke", "#000").attr("stroke-width", 2).attr("d", "M226.9,0H1305.8");
      ax.selectAll(".tick line").attr("stroke", "#333");
      ax.selectAll(".tick text").attr("font-size", 20).attr("fill", "#000").attr("dx", -7);
      const ay = g.append("g").attr("transform", "translate(226.9,0)").call(d3.axisLeft(y).tickValues([0, 0.25, 0.5, 0.75, 1]).tickFormat(d3.format(".2f") as any).tickSize(4).tickSizeOuter(0).tickPadding(12));
      ay.attr("font-family", null);
      ay.select(".domain").attr("stroke", "#000").attr("stroke-width", 2).attr("d", "M0,1625V2200");
      ay.selectAll(".tick line").attr("stroke", "#333");
      ay.selectAll(".tick text").attr("font-size", 20).attr("fill", "#222");

      text(g, "The Proportion of Each Celltype", 730.6, 1610, "middle", 21);
      text(g, "Sample", 744.3, 2257, "middle", 20.5);
      rotText(g, "Fraction of Celltype", 159.5, 1973, "middle", 20.5);
      cellTypes.forEach((c, i) => {
        const ty = 1792.7 + i * 27.7;
        g.append("rect").attr("x", 1312.5).attr("y", ty + 0.5).attr("width", 25.5).attr("height", 26.7).attr("fill", cellColors[i]).attr("stroke", "#444").attr("stroke-width", 1.7);
        text(g, c, 1348.4, ty + 18.5, "start", 20.8);
      });
    }

    // panel letters
    const letters: [string, number, number, number][] = [["A", 0, 35, 38], ["B", 830, 33, 36], ["C", 2, 515, 38], ["D", 2, 1016, 38], ["E", 2, 1646, 38]];
    letters.forEach(([s, lx, ly, size]) => text(svg, s, lx, ly, "start", size));
  }, []);

  return (
    <svg
      ref={svgRef}
      width={1681}
      height={2263}
      style={{ position: "absolute", left: 0, top: 0, display: "block", background: "#fff", fontFamily: '"Liberation Sans", Arial, sans-serif' }}
    />
  );
}
